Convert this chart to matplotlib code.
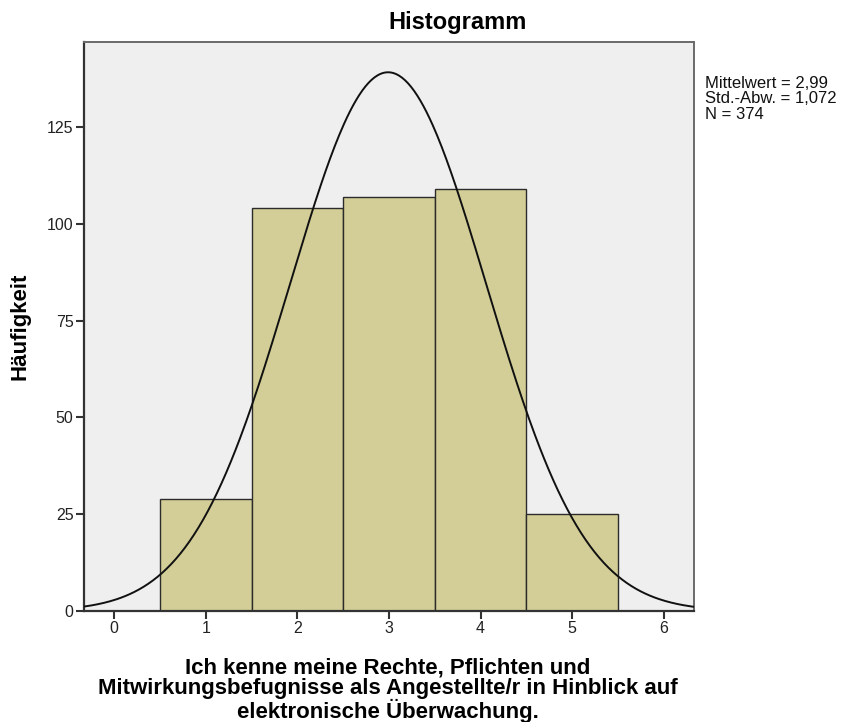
import numpy as np
import matplotlib
matplotlib.use("Agg")
import matplotlib.pyplot as plt

# data
values = [1, 2, 3, 4, 5]
counts = [29, 104, 107, 109, 25]
mean_val = 2.99
sd_val = 1.072
n_total = 374
xticks = [0, 1, 2, 3, 4, 5, 6]
yticks = [0, 25, 50, 75, 100, 125]

plt.rcParams['font.family'] = ['Liberation Sans', 'DejaVu Sans']

fig = plt.figure(figsize=(8.41, 7.22), dpi=100)
ax = fig.add_axes([0.0999, 0.1537, 0.7253, 0.7881])
ax.set_facecolor("#efefef")

ax.bar(values, counts, width=1.0, color="#d3ce98", edgecolor="#2b2b2b", linewidth=1.0, zorder=2)

# normal curve from the reported statistics
xs = np.linspace(-0.33, 6.33, 400)
ys = n_total * 1.0 / (sd_val * np.sqrt(2 * np.pi)) * np.exp(-0.5 * ((xs - mean_val) / sd_val) ** 2)
ax.plot(xs, ys, color="#111111", linewidth=1.4, zorder=3)

ax.set_xlim(-0.33, 6.33)
ax.set_ylim(0, 147)
ax.set_xticks(xticks)
ax.set_yticks(yticks)
ax.tick_params(axis="both", direction="out", length=6, width=1.5, color="#333333",
               labelsize=11.5, labelcolor="#222222", pad=1.5)
for side in ["left", "bottom"]:
    ax.spines[side].set_color("#333333")
    ax.spines[side].set_linewidth(1.6)
for side in ["top", "right"]:
    ax.spines[side].set_color("#6a6a6a")
    ax.spines[side].set_linewidth(1.4)

fig.text(0.5446, 0.9695, "Histogramm", fontsize=17, fontweight="bold",
         ha="center", va="center")
fig.text(0.0238, 0.548, "Häufigkeit", fontsize=16, fontweight="bold",
         rotation=90, ha="center", va="center")
fig.text(0.4613, 0.0443,
         "Ich kenne meine Rechte, Pflichten und\n"
         "Mitwirkungsbefugnisse als Angestellte/r in Hinblick auf\n"
         "elektronische Überwachung.",
         fontsize=16, fontweight="bold", linespacing=0.98, ha="center", va="center")

mean_txt = f"{mean_val:.2f}".replace(".", ",")
sd_txt = f"{sd_val:.3f}".replace(".", ",")
fig.text(0.838, 0.895,
         f"Mittelwert = {mean_txt}\nStd.-Abw. = {sd_txt}\nN = {n_total}",
         fontsize=12, va="top", ha="left", linespacing=1.05, color="#111111")

fig.savefig("out.png", dpi=100)
